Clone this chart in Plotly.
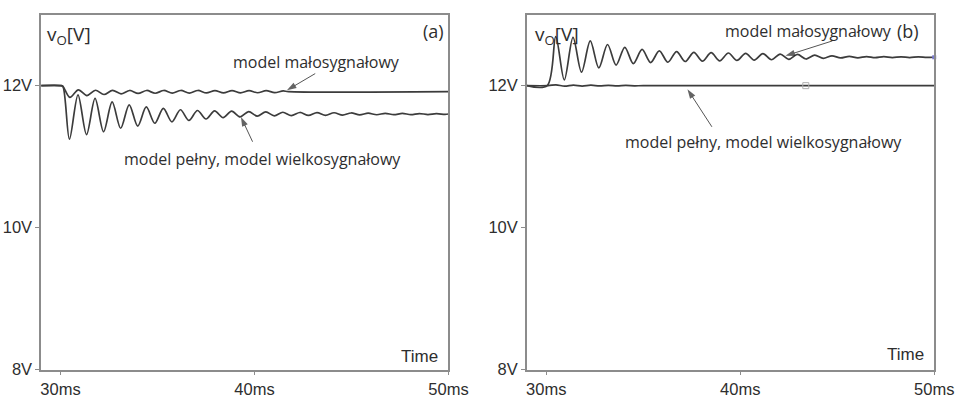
import plotly.graph_objects as go

# ---------------- data ----------------
x_ticks = [30, 40, 50]
x_tick_labels = ["30ms", "40ms", "50ms"]
y_ticks = [8, 10, 12]
y_tick_labels = ["8V", "10V", "12V"]

# panel (a): small-signal model
a_small_t = [29.0, 30.0, 30.12, 30.48, 30.92, 31.36, 31.80, 32.24, 32.68, 33.12, 33.56, 34.00, 34.44,
             34.88, 35.32, 35.76, 36.20, 36.64, 37.08, 37.52, 37.96, 38.40, 38.84, 39.28, 39.72,
             40.16, 40.60, 41.04, 41.48, 41.75, 50.0]
a_small_v = [12.0, 12.0, 11.99, 11.835, 11.94, 11.86, 11.935, 11.875, 11.933, 11.885, 11.932, 11.89, 11.932,
             11.893, 11.932, 11.895, 11.932, 11.896, 11.932, 11.897, 11.931, 11.898, 11.931, 11.899, 11.93,
             11.90, 11.929, 11.902, 11.925, 11.915, 11.915]

# panel (a): full model / large-signal model
a_full_t = [29.0, 30.0, 30.12, 30.46, 30.90, 31.34, 31.78, 32.22, 32.66, 33.10, 33.54, 33.98, 34.42,
            34.86, 35.30, 35.74, 36.18, 36.62, 37.06, 37.50, 37.94, 38.38, 38.82, 39.26, 39.70,
            40.14, 40.58, 41.02, 41.46, 41.90, 42.34, 42.78, 43.22, 43.66, 44.10, 44.54, 44.98,
            45.42, 45.86, 46.30, 46.74, 47.18, 47.62, 48.06, 48.50, 48.94, 49.38, 49.82, 50.0]
a_full_v = [12.0, 12.0, 11.99, 11.245, 11.87, 11.31, 11.82, 11.35, 11.77, 11.40, 11.73, 11.43, 11.70,
            11.47, 11.68, 11.49, 11.66, 11.51, 11.65, 11.53, 11.645, 11.55, 11.64, 11.56, 11.635,
            11.57, 11.63, 11.575, 11.625, 11.578, 11.622, 11.58, 11.62, 11.582, 11.618, 11.585, 11.615,
            11.588, 11.612, 11.59, 11.61, 11.591, 11.608, 11.592, 11.607, 11.593, 11.606, 11.594, 11.60]

# panel (b): small-signal model
b_small_t = [29.0, 30.05, 30.49, 30.93, 31.38, 31.82, 32.27, 32.71, 33.16, 33.60, 34.05, 34.49, 34.94,
             35.38, 35.83, 36.27, 36.72, 37.16, 37.61, 38.05, 38.50, 38.94, 39.39, 39.83, 40.28,
             40.72, 41.17, 41.61, 42.06, 42.50, 42.95, 43.39, 43.84, 44.28, 44.73, 45.17, 45.62,
             46.06, 46.51, 46.95, 47.40, 47.84, 48.29, 48.73, 49.18, 49.62, 50.0]
b_small_v = [12.0, 12.0, 12.69, 12.08, 12.68, 12.19, 12.63, 12.25, 12.58, 12.29, 12.54, 12.31, 12.51,
             12.325, 12.49, 12.33, 12.48, 12.34, 12.47, 12.345, 12.465, 12.35, 12.46, 12.355, 12.455,
             12.36, 12.45, 12.365, 12.445, 12.37, 12.44, 12.375, 12.43, 12.385, 12.42, 12.39, 12.413,
             12.392, 12.41, 12.394, 12.408, 12.395, 12.406, 12.396, 12.405, 12.397, 12.40]

# panel (b): full model / large-signal model
b_full_t = [29.0, 30.1, 30.5, 30.95, 31.4, 31.85, 32.3, 32.75, 33.2, 33.65, 34.1, 34.55, 35.0, 50.0]
b_full_v = [12.0, 12.0, 12.012, 11.992, 12.008, 11.994, 12.006, 11.996, 12.004, 11.997, 12.003, 11.998, 12.0, 12.0]

# simulator cursor markers
b_marker_t = [43.38]
b_marker_v = [12.0]
b_end_t = [50.0]
b_end_v = [12.40]

# ---------------- figure ----------------
W, H = 964, 403
LINE = "#3c3c3c"
AXC = "#8c8c8c"
TXT = "#2e2e2e"

fig = go.Figure()

def curve(t, v, xa, ya):
    fig.add_trace(go.Scatter(x=t, y=v, mode="lines", xaxis=xa, yaxis=ya,
                             line=dict(color=LINE, width=1.7, shape="spline", smoothing=0.9),
                             showlegend=False, hoverinfo="skip"))

curve(a_small_t, a_small_v, "x", "y")
curve(a_full_t, a_full_v, "x", "y")
curve(b_full_t, b_full_v, "x2", "y2")
curve(b_small_t, b_small_v, "x2", "y2")

fig.add_trace(go.Scatter(x=b_marker_t, y=b_marker_v, mode="markers", xaxis="x2", yaxis="y2",
                         marker=dict(symbol="square-open", size=6, color="#b0b0b0"),
                         showlegend=False, hoverinfo="skip"))
fig.add_trace(go.Scatter(x=b_end_t, y=b_end_v, mode="markers", xaxis="x2", yaxis="y2",
                         marker=dict(symbol="square", size=4, color="#7a7ad0"),
                         showlegend=False, hoverinfo="skip", cliponaxis=False))


def arrow(xa, ya, tail, head):
    # pointer line from label towards curve, with a filled arrow head at the curve end
    fig.add_trace(go.Scatter(x=[tail[0], head[0]], y=[tail[1], head[1]], mode="lines+markers",
                             xaxis=xa, yaxis=ya,
                             line=dict(color="#555555", width=1),
                             marker=dict(symbol=["circle", "arrow"], size=[0, 10], color="#222222",
                                         angleref="previous", line=dict(width=0)),
                             showlegend=False, hoverinfo="skip"))


arrow("x", "y", (43.13, 12.17), (41.67, 11.935))
arrow("x", "y", (39.90, 11.21), (39.30, 11.56))
arrow("x2", "y2", (44.75, 12.63), (42.33, 12.42))
arrow("x2", "y2", (38.54, 11.42), (37.28, 11.95))

ydom = [(H - 378) / H, (H - 15) / H]
axfont = dict(family="Liberation Sans, Arial, sans-serif", size=16.5, color=TXT)

def xax(dom, anchor):
    return dict(domain=dom, anchor=anchor, range=[29, 50], tickvals=x_ticks, ticktext=x_tick_labels,
                showline=True, linecolor=AXC, linewidth=1.5, mirror=True, ticks="outside",
                ticklen=4, tickcolor=AXC, tickwidth=1.2, tickfont=axfont, showgrid=False,
                zeroline=False, fixedrange=True)

def yax(anchor):
    return dict(domain=ydom, anchor=anchor, range=[8, 13], tickvals=y_ticks, ticktext=y_tick_labels,
                showline=True, linecolor=AXC, linewidth=1.5, mirror=True, ticks="outside",
                ticklen=4, tickcolor=AXC, tickwidth=1.2, tickfont=axfont, showgrid=False,
                zeroline=False, fixedrange=True)

fig.update_layout(
    width=W, height=H, margin=dict(l=0, r=0, t=0, b=0),
    paper_bgcolor="white", plot_bgcolor="white",
    xaxis=xax([42 / W, 458 / W], "y"),
    yaxis=yax("x"),
    xaxis2=xax([538 / W, 954 / W], "y2"),
    yaxis2=yax("x2"),
)

lab = dict(family="Open Sans, Lato, sans-serif", size=16, color=TXT)
vfont = dict(family="Open Sans, Lato, sans-serif", size=19, color=TXT)
pfont = dict(family="Open Sans, Lato, sans-serif", size=18, color=TXT)
tfont = dict(family="Liberation Sans, Arial, sans-serif", size=17, color=TXT)
ann = []

def text(xr, yr, x, y, s, xanchor="center", font=lab):
    ann.append(dict(xref=xr, yref=yr, x=x, y=y, text=s, showarrow=False,
                    xanchor=xanchor, yanchor="middle", font=font))

# panel (a)
text("x", "y", 29.2, 12.72, "v<sub>O</sub>[V]", xanchor="left", font=vfont)
text("x", "y", 49.24, 12.77, "(a)", font=pfont)
text("x", "y", 43.18, 12.34, "model małosygnałowy")
text("x", "y", 40.41, 10.96, "model pełny, model wielkosygnałowy")
text("x", "y", 48.49, 8.18, "Time", font=tfont)

# panel (b)
text("x2", "y2", 29.3, 12.72, "v<sub>O</sub>[V]", xanchor="left", font=vfont)
text("x2", "y2", 48.64, 12.77, "(b)", font=pfont)
text("x2", "y2", 43.54, 12.77, "model małosygnałowy")
text("x2", "y2", 41.22, 11.21, "model pełny, model wielkosygnałowy")
text("x2", "y2", 48.54, 8.21, "Time", font=tfont)

fig.update_layout(annotations=ann)
fig.write_html("out.html")
